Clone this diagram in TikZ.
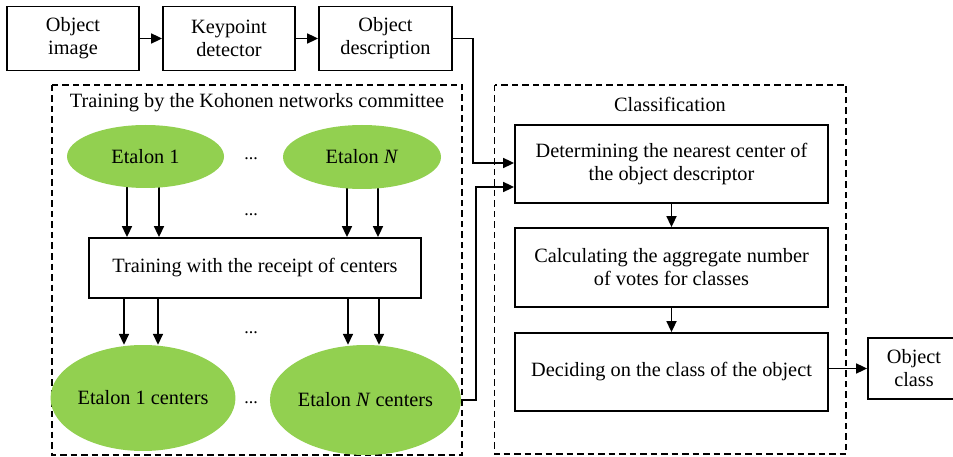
\documentclass[tikz,border=0pt]{standalone}
\usepackage{fontspec}
\setmainfont{Liberation Serif}
\usetikzlibrary{arrows.meta,shapes.geometric,backgrounds,calc}
\definecolor{egreen}{RGB}{146,208,80}
\begin{document}
\begin{tikzpicture}[x=1pt,y=-1pt,
  every node/.style={font=\fontsize{20.3}{23}\selectfont, inner sep=0pt, align=center},
  box/.style={draw, line width=1.8pt, rectangle},
  ell/.style={ellipse, fill=egreen, draw=none},
  frame/.style={draw, line width=1.6pt, dash pattern=on 6.5pt off 4pt},
  arr/.style={line width=1.7pt, -{Triangle[length=11pt,width=10pt]}},
  dotsl/.style={font=\fontsize{18}{20}\selectfont, anchor=base}]
\useasboundingbox (0,0) rectangle (953,457);
% top row
\node[box, minimum width=132pt, minimum height=64pt] (img) at (73,38.5) {Object\\image};
\node[box, minimum width=132pt, minimum height=64pt] (kp) at (229,38.5) {Keypoint\\detector};
\node[box, minimum width=133pt, minimum height=64pt] (desc) at (385.5,38.5) {Object\\description};
% frames
\draw[frame] (52,85) rectangle (462,455);
\draw[frame] (494.5,85) rectangle (846,454);
\node (ttl1) at (257,103) {Training by the Kohonen networks committee};
\node (ttl2) at (670,104) {Classification};
% training part
\node[ell, minimum width=157pt, minimum height=63pt] (e1) at (145.5,156.5) {Etalon 1};
\node[ell, minimum width=158pt, minimum height=64pt] (eN) at (362,157) {Etalon \textit{N}};
\node[box, minimum width=332pt, minimum height=60pt] (tr) at (255,268) {Training with the receipt of centers};
\node[ell, minimum width=182pt, minimum height=106pt] (c1) at (143,398) {Etalon 1 centers};
\node[ell, minimum width=183pt, minimum height=110pt] (cN) at (365.5,400) {Etalon \textit{N} centers};
\node[dotsl] (d1) at (251,160) {...};
\node[dotsl] (d2) at (251,216) {...};
\node[dotsl] (d3) at (251,333) {...};
\node[dotsl] (d4) at (251,403) {...};
% classification part
\node[box, minimum width=313pt, minimum height=78pt] (b1) at (671.5,164) {Determining the nearest center of\\the object descriptor};
\node[box, minimum width=313pt, minimum height=79pt] (b2) at (671.5,267.5) {Calculating the aggregate number\\of votes for classes};
\node[box, minimum width=313pt, minimum height=78pt] (b3) at (671.5,372) {Deciding on the class of the object};
\node[box, minimum width=92pt, minimum height=61pt] (oc) at (914,368.5) {Object\\class};
% connectors
\draw[arr] (img) -- (kp);
\draw[arr] (kp) -- (desc);
\coordinate (j1) at ($(desc.east)+(20,0)$);
\draw[arr] (desc.east) -- (j1) |- ([yshift=1pt]b1.west);
\coordinate (j2) at ($(cN.east)+(15,0)$);
\draw[arr] (cN.east) -- (j2) |- ([yshift=-23pt]b1.west);
\draw[arr] (b1) -- (b2);
\draw[arr] (b2) -- (b3);
\draw[arr] (b3.east |- oc.west) -- (oc.west);
\begin{scope}[on background layer]
\draw[arr] ([xshift=-18.5pt]e1.center) -- ([xshift=-18.5pt]e1.center |- tr.north);
\draw[arr] ([xshift=13.5pt]e1.center) -- ([xshift=13.5pt]e1.center |- tr.north);
\draw[arr] ([xshift=-15pt]eN.center) -- ([xshift=-15pt]eN.center |- tr.north);
\draw[arr] ([xshift=16pt]eN.center) -- ([xshift=16pt]eN.center |- tr.north);
\draw[arr] ([xshift=-19pt]c1.north |- tr.south) -- ([xshift=-19pt]c1.north);
\draw[arr] ([xshift=15pt]c1.north |- tr.south) -- ([xshift=15pt]c1.north);
\draw[arr] ([xshift=-17.5pt]cN.north |- tr.south) -- ([xshift=-17.5pt]cN.north);
\draw[arr] ([xshift=13.5pt]cN.north |- tr.south) -- ([xshift=13.5pt]cN.north);
\end{scope}
\end{tikzpicture}
\end{document}
